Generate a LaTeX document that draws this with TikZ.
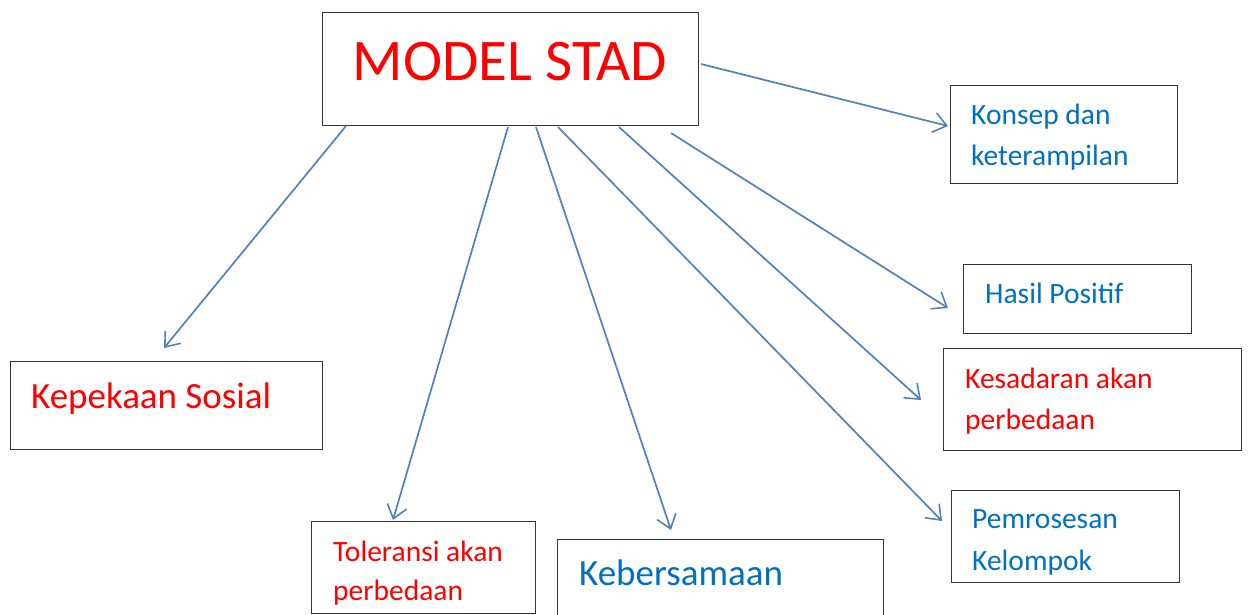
\documentclass[tikz,border=0pt]{standalone}
\usepackage{fontspec}
\setmainfont{Carlito}
\usetikzlibrary{arrows.meta}
\definecolor{arrowblue}{HTML}{4F81BD}
\definecolor{txtblue}{HTML}{0070C0}
\definecolor{txtred}{HTML}{FF0000}
\tikzset{
  box/.style={draw=black!80, line width=1.2pt, rectangle, inner sep=0pt, anchor=north west},
  lbl/.style={anchor=base west, inner sep=0pt},
  small/.style={font=\fontsize{29.5}{34}\selectfont},
  big/.style={font=\fontsize{37}{42}\selectfont},
  conn/.style={draw=arrowblue, line width=1.7pt, -{Straight Barb[length=13pt,width=20pt,line width=1.6pt]}}
}
\begin{document}
\begin{tikzpicture}[x=1pt,y=-1pt]
\useasboundingbox (0,0) rectangle (1248,614);
% boxes
\node[box, minimum width=376pt, minimum height=113pt] (model) at (322,12) {};
\node[box, minimum width=227pt, minimum height=98pt] (konsep) at (950,85) {};
\node[box, minimum width=228pt, minimum height=69pt] (hasil) at (963,264) {};
\node[box, minimum width=298pt, minimum height=102pt] (kesadaran) at (943,348) {};
\node[box, minimum width=228pt, minimum height=92pt] (pemrosesan) at (951,490) {};
\node[box, minimum width=312pt, minimum height=88pt] (kepekaan) at (10,361) {};
\node[box, minimum width=224pt, minimum height=92pt] (toleransi) at (311,521) {};
\node[box, minimum width=326pt, minimum height=110pt] (kebersamaan) at (557,539) {};
% labels
\node[lbl, text=txtred, font=\fontsize{59}{66}\selectfont, anchor=base] (modelt) at (510,80) {MODEL STAD};
\node[lbl, small, text=txtblue] (konsept1) at (971,124) {Konsep dan};
\node[lbl, small, text=txtblue] (konsept2) at (971,165) {keterampilan};
\node[lbl, small, text=txtblue] (hasilt) at (985,303) {Hasil Positif};
\node[lbl, small, text=txtred] (kesadarant1) at (965,388) {Kesadaran akan};
\node[lbl, small, text=txtred] (kesadarant2) at (965,429) {perbedaan};
\node[lbl, small, text=txtblue] (pemrosesant1) at (972,528) {Pemrosesan};
\node[lbl, small, text=txtblue] (pemrosesant2) at (972,570) {Kelompok};
\node[lbl, big, text=txtred] (kepekaant) at (31,408) {Kepekaan Sosial};
\node[lbl, small, text=txtred] (toleransit1) at (333,561) {Toleransi akan};
\node[lbl, small, text=txtred] (toleransit2) at (333,600) {perbedaan};
\node[lbl, big, text=txtblue] (kebersamaant) at (579,585) {Kebersamaan};
% connector end points
\coordinate (s1) at (346,126); \coordinate (e1) at (164,348);
\coordinate (s2) at (508,127); \coordinate (e2) at (393,520);
\coordinate (s3) at (536,127); \coordinate (e3) at (671,530);
\coordinate (s4) at (558,127); \coordinate (e4) at (942,521);
\coordinate (s5) at (619,127); \coordinate (e5) at (921,400);
\coordinate (s6) at (671,133); \coordinate (e6) at (948,308);
\coordinate (s7) at (701,64);  \coordinate (e7) at (948,126);
\draw[conn] (s1) -- (e1);
\draw[conn] (s2) -- (e2);
\draw[conn] (s3) -- (e3);
\draw[conn] (s4) -- (e4);
\draw[conn] (s5) -- (e5);
\draw[conn] (s6) -- (e6);
\draw[conn] (s7) -- (e7);
\end{tikzpicture}
\end{document}
